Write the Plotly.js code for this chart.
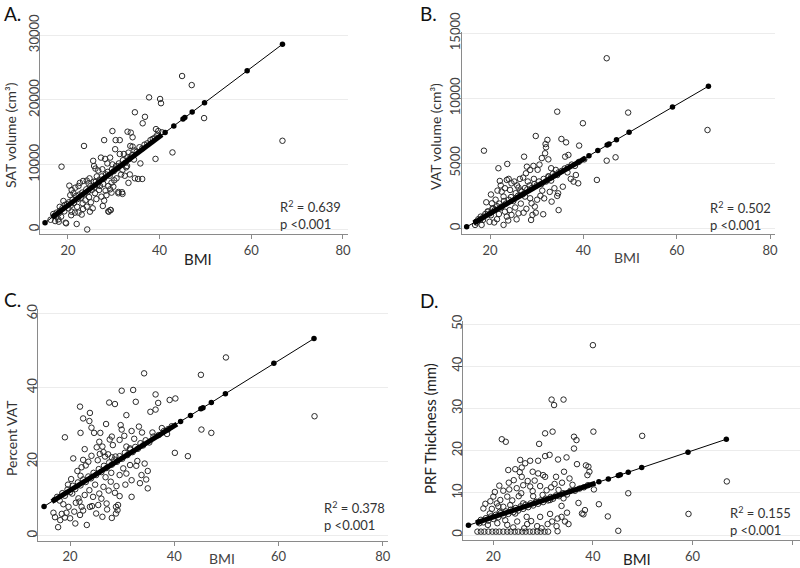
<!DOCTYPE html>
<html>
<head>
<meta charset="utf-8">
<script src="https://cdn.plot.ly/plotly-3.0.1.min.js"></script>
<style>html,body{margin:0;padding:0;background:#fff}#chart{width:800px;height:568px}</style>
</head>
<body>
<div id="chart"></div>
<script>
// ---------- Panel A: SAT volume vs BMI ----------
const satBMI = [18.6,23.5,27.9,29.7,30.4,31.3,34.6,36.8,36.3,37.7,40.1,40.3,44.9,47,42.8,39.1,49.7,66.8,24.2,21.9,19.5,29.3,28.8,36.2,35.3,34.6,33.5,31.8,31,
39.2,39.7,33,33.7,34.1,30.3,31.3,32.2,33.2,33.6,34.1,
25.5,25.7,26.6,27.2,28.1,29.2,28.6,29.7,30.8,31.9,32.7,31.6,30.6,
20.3,20.8,21.6,22.3,23.3,24.1,24.7,25.7,27,27.7,28.8,29.5,29.2,29.5,31,31.9,27.3,27.9,27.6,28.9,29.3,
19.3,20.1,20.8,21.5,22.3,23.2,24.1,24.8,25.4,23.3,17.5,18.5,16.8,17.9,19.6,
17.5,18,18.3,18.8,19.2,19.8,20.2,20.6,21,21.3,21.8,22.1,22.5,22.8,23.1,23.6,24,24.4,24.9,25.2,25.8,26.1,26.4,26.9,27.4,27.8,28.3,28.7,29.1,29.6,30,30.5,31.1,31.5,32,32.5,33,33.4,34,34.5,35,35.6,36.2,36.7,37.3,38,38.5,39,39.5,40.5,
21.2,22,23.8,24.6,25.9,26.3,26.8,27.5,28.2,30.1,32.4,32.9,34.4,35.8,22.6,24.5,26,20.5,19,18.2,17.2,16.2,18,20.7,23,25,26.2,28.4,29.9,33.2];
const satVol = [9700,12900,13800,15200,13800,13800,18100,17400,16400,20400,20150,19500,23700,22300,11900,10900,17200,13700,0,850,1050,3000,2800,7800,7800,7900,8500,5750,5800,
15500,15200,15100,14960,14240,12400,11660,11660,11870,12900,12800,
10600,9800,9100,11100,10900,11100,10200,10050,9450,9200,9600,8500,7900,
6770,6100,6460,6720,7490,7550,7900,7390,6720,7030,6720,7230,6200,5690,5590,5490,5070,4450,3630,2750,3010,
3790,3270,2750,2600,2600,4040,3530,2750,3270,3170,1980,1980,2390,1570,950,
2600,2500,2900,3300,2800,3900,4200,3700,4600,4100,5200,4700,5400,4900,5700,5500,6200,5900,6700,6100,6500,7400,6900,7700,8200,7800,8500,8900,8300,9300,9000,9800,10200,9900,10700,10300,11200,10900,11500,12200,12000,12700,12500,13100,13300,13800,14000,14200,14600,15000,
5600,3500,4500,5000,5600,8200,6100,9300,6000,7600,8300,9800,10800,10200,7200,7100,9400,5300,4400,3500,1300,1500,1200,2200,2300,4200,4700,5300,6600,7200];

// ---------- Panel B: VAT volume vs BMI ----------
const vatBMI = [18.7,21.8,23.7,27.3,29.8,32.3,32,31.9,31.8,34.4,35.3,36.3,36.8,36.1,39.1,39.9,42.9,38.4,38.9,37.9,33.1,34.1,34.4,32.6,33.1,33.8,34.6,34.4,33.2,34.7,31.4,
27.9,28.6,29.3,27.7,22.1,23.6,24.6,23.2,24.3,22.5,22.9,
26.1,26.8,27.5,28.6,28.9,29.6,29.1,28.8,
20.4,20.7,19.6,18.6,17.9,17.1,16.8,18.2,
22.5,23.2,23.6,24.6,25.7,22.9,26.1,
45,66.6,49.6,45,46.9,
17.5,18,18.5,19,19.5,20,20.5,21,21.5,22,22.4,23,23.4,24,24.5,25,25.5,26,26.5,27,27.5,28,28.5,29,29.5,30,30.5,31,31.5,32,32.5,33,33.5,34,34.7,35.3,36,36.7,37.5,38.2,39,40.2,
19.2,20.2,21.2,21.6,22.3,24,25.2,25.8,26.4,27.1,28.1,29.4,30.2,30.8,31.2,30.1,27.8,26.6,25.4,24.2,23.9,21.5,20.9,19.9,20.2,21.9,27.2,29.8,31.6,32.8,35.6,36.6,37.3,30.6,31.1,32.5];
const vatVol = [5970,4620,4950,5510,7100,6800,6230,6480,5770,8970,6870,6610,5640,5510,6360,8080,3720,4100,3460,3590,4620,4490,4100,3970,3670,3080,2690,2490,2050,1400,1080,
4740,4490,4800,4230,3640,3720,3460,3080,2950,2820,2440,
3130,2820,2440,2310,1920,1670,1030,640,
1920,1540,1280,900,640,440,260,260,
1670,1280,900,1030,690,260,1150,
13080,7560,8900,5200,5460,
700,900,650,1100,1300,1150,1500,1400,1700,1900,1600,2100,1900,2200,2400,2100,2700,2500,2900,2600,3100,3000,3300,3100,3400,3300,3600,3400,3800,3600,4000,3900,4200,4100,4300,4400,4600,4700,4900,4800,5100,5300,
2000,2600,2200,2900,3300,3800,3600,3300,3800,3900,3600,3800,4500,2500,2900,2200,1500,1900,1600,1400,600,700,450,500,1000,1100,1200,1200,2300,2800,3200,4300,3800,4900,5400,5300];

// ---------- Panel C: Percent VAT vs BMI ----------
const pctBMI = [34.2,29.9,32.1,36.4,36.9,27.5,28.6,32.6,35.4,36.4,39.1,40.2,21.9,23.8,22.5,23.7,24.1,30.8,22,24.6,25.8,26.9,19,29.7,29.9,31.8,33.8,28,27.6,25.6,26.2,25.1,29.5,30.8,31.5,22.8,20.6,22.5,23.5,25.7,26.7,28,28.7,31.5,32.7,34.3,40.1,42.6,34.9,34.6,34.9,29.5,30.8,31.8,33.7,28.9,29.5,28.6,31.8,27.8,26.4,25.6,24.4,23.7,22.8,21.6,20.4,18.7,19.7,21.1,22.2,22.5,23.8,25.4,27,28.8,29.1,28.8,29.2,26.2,27.1,17.1,18.1,19,20,21,21.9,23.2,17.7,18.4,19.3,49.9,45.1,45.2,47.1,66.9,
17.5,18,18.5,19,19.5,20,20.5,21,21.5,22,22.5,23,23.5,24,24.5,25,25.5,26,26.5,27,27.5,28,28.5,29,29.5,30,30.5,31,31.5,32,32.5,33,33.5,34,34.5,35.2,36,37,38,38.8,39.5,
20.2,21.4,22.2,23,24.1,25.3,26.4,27.3,28.2,30.4,32.3,33.2,35.8,37.6,38.6,24.8,26.8,27.9,30.2,32.9,22,19.6,21.8,24.2,26,27.4,30.6,33.4,25,28,20.8,16.8];
const pctVAT = [43.9,39.2,39.4,38.2,35.9,36,35.6,36.2,33.5,34.1,36.7,37.1,34.9,33.2,31.7,31,29.2,32.6,27.8,27.8,27.8,30.2,26.6,29.9,28.7,28.3,27.9,26.8,26,25.4,24.1,23.9,25.9,24.1,23.6,23.4,20.9,20.5,20,22.1,21.4,21.2,21.4,19.1,18.9,19.5,22.4,21.5,17.5,15.2,12.8,16.4,16.8,15,16.4,13.4,10.7,11.6,10.5,14.6,13.2,11.4,10.5,12.3,11,10.1,11.4,8.5,7.8,8.9,7.8,6.8,7.8,8.3,8.7,7.8,6.9,6,8.3,5.1,7.1,5,4.2,4.9,4.7,3.3,5.6,2.9,2.3,5.9,6.2,48.2,43.5,28.7,27.8,32.3,
10.5,9.5,11.5,10.8,12.5,11.8,13.5,12.6,14.4,13.6,15.2,14.5,16,15.5,17,16.4,18,17.2,18.9,18.3,19.8,19.2,20.6,20,21.5,20.8,22.4,21.8,23.3,22.6,24,23.5,25,24.4,25.8,25.2,26.8,27.2,28.3,28.8,29.6,
15.3,17.5,18.5,19,21.6,20.4,22.6,22,24.5,27,26.2,29.5,27.9,29.1,27.5,13.8,15.8,17,18.2,20.2,16.2,13.8,9.2,8,10,12.2,13.8,14.2,6,4.8,6.5,6.2];

// ---------- Panel D: PRF thickness vs BMI ----------
const prfBMI = [31.7,32.2,34.1,21.7,22.5,30.4,31.9,29.2,36.2,36.7,36.2,40.1,25.4,26.4,25.7,27.4,29,30.4,31.3,33,34.7,
23,24.4,25.3,25.7,27.9,29,30,30.4,32.6,34.2,35.3,39.1,39.3,38.9,
22,23.2,24.7,26,27.4,29.4,31.6,33.1,40.2,41.2,43,
20,21.4,22.8,25.1,28,29.9,
20.7,22,23.4,26,28.7,31.4,34.1,
33.7,33.7,34.4,35.1,37.8,38.4,38.1,
18,19.3,21.3,24.4,26.7,29.4,31.4,32.9,
17.2,18.9,20.8,22.8,24.8,26.8,28.8,30.9,32.7,
16.8,17.5,18.2,19,19.8,20.5,21.2,22,22.8,23.5,24.3,25,25.8,26.5,27.3,28,28.8,29.5,30.3,31,32.9,
40,49.9,47.1,45.1,59.2,66.9,
17.5,18,18.5,19,19.5,20,20.5,21,21.5,22,22.5,23,23.5,24,24.5,25,25.5,26,26.5,27,27.5,28,28.5,29,29.5,30,30.5,31,31.5,32,32.6,33.2,34,34.8,35.5,36.4,37.3,38.2,39,
19.7,21,23.8,25.6,27.9,30.7,32.3,33.8,35.9,22.4,24,26.2,27.6,29.7,31.8,34.8,23.1,24.1,26.9,28.3,36.8,37.1,38.6,21.2,20.3,19.4,18.4];
const prfThk = [32.1,30.8,32.1,22.7,22.1,24.1,24.5,21.6,23.3,22.5,20.5,24.5,17.8,17,16,17.6,17.6,18.7,19,17.9,18.4,
15.4,15.6,14.9,13.8,15,14.6,14.2,13.8,13.8,15,13.4,16.2,15,14.2,
10.5,10.8,11.1,11.8,11.5,11.6,11.3,10.7,10.8,7.3,4.4,
9.1,8.3,9.1,9.2,9.2,9.5,
7.5,6.7,7.1,7.5,7.9,8.3,8.7,
6.9,4.3,3.2,2.6,5.1,5.9,4.9,
6.3,5.1,5.5,5.1,4.3,4.3,5,3.9,
2.8,2.4,2.8,2.4,3.2,2.6,2.1,2.6,2.1,
0.8,0.8,0.8,0.8,0.8,0.8,0.8,0.8,0.8,0.8,0.8,0.8,0.8,0.8,0.8,0.8,0.8,0.8,0.8,0.8,0.9,
45,23.5,9.9,1,5,12.7,
3.6,3,4,3.4,4.4,3.8,4.8,4.2,5.2,4.6,5.6,5,6,5.4,6.4,5.8,6.8,6.2,7.2,6.6,7.5,7,7.8,7.4,8.2,7.8,8.6,8.2,9,8.6,9.4,9.2,9.9,9.6,10.5,10.5,11,11.3,11.8,
6.2,6.8,8.2,9.9,10.4,10.6,12.1,12.4,11.9,3.5,1.8,1.6,3.3,1.6,3.2,5.3,12.4,13,12.8,12.9,16.8,7.6,16.5,11.7,10.2,8,7.4];

// ---------- Fitted values (filled dots on the regression line) ----------
const fitBMI = [15,17,41.2,43.1,45.1,45.5,47.1,49.8,59.1,66.8];
const fitSAT = [1050,2110,14990,15990,17060,17280,18130,19560,24510,28610];
const fitVAT = [110,520,5580,5980,6400,6480,6820,7380,9330,10930];
const fitPct = [7.9,9.7,30.9,32.5,34.3,34.6,36.0,38.4,46.6,53.3];
const fitPRF = [2.3,3.1,12.6,13.3,14.1,14.3,14.9,16.0,19.6,22.7];
// dense run of fitted dots (drawn as a thick band)
const bandBMI = [16.5,40.5];
const bandSAT = [1850,14620];
const bandVAT = [410,5420];
const bandPct = [9.2,30.2];
const bandPRF = [2.9,12.3];

const xTicks = [20,40,60,80];
const yTicksA = [0,10000,20000,30000];
const yTicksB = [0,5000,10000,15000];
const yTicksC = [0,20,40,60];
const yTicksD = [0,10,20,30,40,50];

const FONT = 'Lato, "Open Sans", sans-serif';

function panel(xs, ys, fy, by, n) {
  const xa = n === 1 ? 'x' : 'x' + n, ya = n === 1 ? 'y' : 'y' + n;
  return [
    {type:'scatter', mode:'markers', x:xs, y:ys, xaxis:xa, yaxis:ya,
     marker:{symbol:'circle-open', size:5.5, color:'#2a2a2a', line:{width:1}}, hoverinfo:'x+y'},
    {type:'scatter', mode:'lines+markers', x:fitBMI, y:fy, xaxis:xa, yaxis:ya,
     line:{color:'#000', width:1}, marker:{symbol:'circle', size:5.5, color:'#000'}},
    {type:'scatter', mode:'lines', x:bandBMI, y:by, xaxis:xa, yaxis:ya,
     line:{color:'#000', width:5}}
  ];
}

const data = [].concat(
  panel(satBMI, satVol, fitSAT, bandSAT, 1),
  panel(vatBMI, vatVol, fitVAT, bandVAT, 2),
  panel(pctBMI, pctVAT, fitPct, bandPct, 3),
  panel(prfBMI, prfThk, fitPRF, bandPRF, 4)
);

function xax(dom, rng, anchor) {
  return {domain:dom, range:rng, anchor:anchor, tickvals:xTicks, showline:true, linecolor:'#8a8a8a', linewidth:1,
    ticks:'outside', ticklen:4, tickcolor:'#8a8a8a', showgrid:false, zeroline:false,
    tickfont:{family:FONT, size:13, color:'#444'}};
}
function yax(dom, rng, anchor, tv) {
  return {domain:dom, range:rng, anchor:anchor, tickvals:tv, tickformat:'d', tickangle:-90, showline:true,
    linecolor:'#8a8a8a', linewidth:1, ticks:'outside', ticklen:4, tickcolor:'#8a8a8a', ticklabelstandoff:-9,
    showgrid:true, gridcolor:'#ececec', gridwidth:1, zeroline:false,
    tickfont:{family:FONT, size:13, color:'#444'}};
}
const px = v => v/800, py = v => 1 - v/568;

function ann(text, x, y, size, color, opts) {
  return Object.assign({text:text, x:px(x), y:py(y), xref:'paper', yref:'paper', showarrow:false,
    xanchor:'center', yanchor:'middle', font:{family:FONT, size:size, color:color}}, opts||{});
}

const annotations = [
  ann('A.', 2, 13, 19, '#111', {xanchor:'left'}),
  ann('B.', 418, 13, 19, '#111', {xanchor:'left'}),
  ann('C.', 2, 299, 19, '#111', {xanchor:'left'}),
  ann('D.', 418, 300, 19, '#111', {xanchor:'left'}),
  ann('SAT volume (cm³)', 11, 135, 14, '#333', {textangle:-90}),
  ann('VAT volume (cm³)', 436, 137, 14, '#333', {textangle:-90}),
  ann('Percent VAT', 11, 438, 14, '#333', {textangle:-90}),
  ann('PRF Thickness (mm)', 430, 429, 15, '#222', {textangle:-90}),
  ann('BMI', 198, 259, 15, '#222'),
  ann('BMI', 627, 257, 14, '#444'),
  ann('BMI', 222, 558, 14, '#444'),
  ann('BMI', 637, 559, 15, '#222'),
  ann('R<sup>2</sup> = 0.639<br>p &lt;0.001', 278, 215, 13, '#333', {xanchor:'left', align:'left'}),
  ann('R<sup>2</sup> = 0.502<br>p &lt;0.001', 708, 216, 13, '#333', {xanchor:'left', align:'left'}),
  ann('R<sup>2</sup> = 0.378<br>p &lt;0.001', 322, 516, 13, '#333', {xanchor:'left', align:'left'}),
  ann('R<sup>2</sup> = 0.155<br>p &lt;0.001', 728, 521, 13, '#333', {xanchor:'left', align:'left'})
];

const layout = {
  width:800, height:568, margin:{l:0, r:0, t:0, b:0}, paper_bgcolor:'#fff', plot_bgcolor:'#fff',
  showlegend:false, font:{family:FONT},
  xaxis: xax([0.05, 0.435], [13.9, 81.1], 'y'),
  yaxis: yax([0.588, 0.9437], [-700, 30500], 'x', yTicksA),
  xaxis2: xax([0.5771, 0.9688], [13.93, 81.07], 'y2'),
  yaxis2: yax([0.588, 0.9437], [-440, 15100], 'x2', yTicksB),
  xaxis3: xax([0.0479, 0.485], [13.9, 81], 'y3'),
  yaxis3: yax([0.0481, 0.456], [-1.35, 61.3], 'x3', yTicksC),
  xaxis4: xax([0.5784, 1.0], [13.85, 81.6], 'y4'),
  yaxis4: yax([0.0493, 0.4354], [-1.18, 50.8], 'x4', yTicksD),
  annotations: annotations
};

Plotly.newPlot('chart', data, layout, {staticPlot:true});
</script>
</body>
</html>
